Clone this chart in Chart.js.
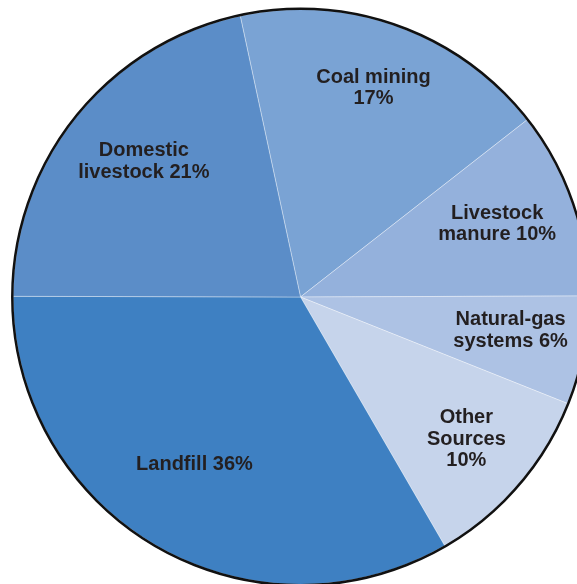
<!DOCTYPE html>
<html>
<head>
<meta charset="utf-8">
<script src="https://cdn.jsdelivr.net/npm/chart.js@4.4.1/dist/chart.umd.min.js"></script>
<style>
html,body{margin:0;padding:0;overflow:hidden;background:#fff;width:577px;height:584px;}
#wrap{position:absolute;left:0;top:0;width:600px;height:600px;}
</style>
</head>
<body>
<div id="wrap"><canvas id="c"></canvas></div>
<script>
// Categories (clockwise starting from the Coal mining slice)
const categories = ['Coal mining', 'Livestock manure', 'Natural-gas systems', 'Other Sources', 'Landfill', 'Domestic livestock'];
// Slice shares as drawn in the picture (percent of circle)
const shares = [17.8, 10.5, 6.1, 10.6, 33.4, 21.6];
// Printed label lines
const labelLines = [
  ['Coal mining', '17%'],
  ['Livestock', 'manure 10%'],
  ['Natural-gas', 'systems 6%'],
  ['Other', 'Sources', '10%'],
  ['Landfill 36%'],
  ['Domestic', 'livestock 21%']
];
const colors = ['#7aa3d4', '#94b1dc', '#adc2e4', '#c6d4eb', '#3e80c2', '#5b8dc8'];

const pieDecor = {
  id: 'pieDecor',
  afterDatasetsDraw(chart, args, opts) {
    const meta = chart.getDatasetMeta(0);
    const ctx = chart.ctx;
    const a0 = meta.data[0];
    ctx.save();
    ctx.beginPath();
    ctx.arc(a0.x, a0.y, a0.outerRadius + 0.7, 0, Math.PI * 2);
    ctx.lineWidth = 2.5;
    ctx.strokeStyle = '#111';
    ctx.stroke();
    ctx.fillStyle = '#231f20';
    ctx.font = 'bold 20px "Liberation Sans", Arial, sans-serif';
    ctx.textAlign = 'center';
    ctx.textBaseline = 'middle';
    meta.data.forEach((arc, i) => {
      const mid = (arc.startAngle + arc.endAngle) / 2 + opts.shift[i] * Math.PI / 180;
      const r = arc.outerRadius * opts.radial[i];
      const cx = arc.x + Math.cos(mid) * r;
      const cy = arc.y + Math.sin(mid) * r;
      const lines = labelLines[i];
      const lh = 21.5;
      lines.forEach((t, k) => {
        ctx.fillText(t, cx, cy + (k - (lines.length - 1) / 2) * lh);
      });
    });
    ctx.restore();
  }
};

new Chart(document.getElementById('c'), {
  type: 'pie',
  data: {
    labels: categories,
    datasets: [{
      data: shares,
      backgroundColor: colors,
      borderColor: 'rgba(255,255,255,0.35)',
      borderWidth: 1
    }]
  },
  options: {
    responsive: true,
    maintainAspectRatio: false,
    animation: false,
    rotation: -12.1,
    layout: { padding: { left: 12, top: 9, right: 11, bottom: 15 } },
    plugins: {
      legend: { display: false },
      tooltip: { enabled: false },
      pieDecor: {
        radial: [0.77, 0.73, 0.74, 0.76, 0.69, 0.72],
        shift: [-0.7, -1.3, -1.7, -0.2, 2.3, 1.8]
      }
    }
  },
  plugins: [pieDecor]
});
</script>
</body>
</html>
